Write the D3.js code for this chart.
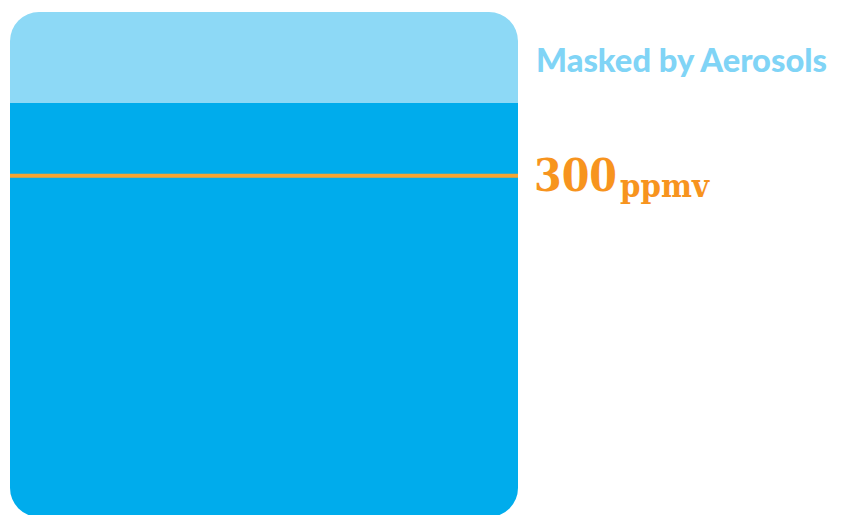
<!DOCTYPE html>
<html>
<head>
<meta charset="utf-8">
<script src="https://cdn.jsdelivr.net/npm/d3@7"></script>
<style>
  html, body { margin: 0; padding: 0; background: #ffffff; }
  svg { display: block; }
</style>
</head>
<body>
<script>
// Stacked column: warming-equivalent CO2 split into the visible part and the part masked by aerosols
const segmentNames = ["Unmasked", "Masked by Aerosols"];
const segmentValues = [364, 80];          // ppmv, stacked from the bottom
const segmentColors = ["#00ACEC", "#8DD9F6"];
const thresholdValue = 300;               // reference level marked across the column
const thresholdUnit = "ppmv";

const width = 845, height = 515;
const svg = d3.select("body").append("svg")
  .attr("width", width).attr("height", height);

const total = d3.sum(segmentValues);
const x = d3.scaleBand().domain(["CO2"]).range([10, 518]).padding(0);
const y = d3.scaleLinear().domain([0, total]).range([517, 12]);

// stack the segments
let acc = 0;
const stacked = segmentValues.map((v, i) => {
  const d = { name: segmentNames[i], y0: acc, y1: acc + v, color: segmentColors[i] };
  acc += v;
  return d;
});

// rounded outline of the whole column used as a clip
const clip = svg.append("defs").append("clipPath").attr("id", "col-clip");
clip.append("rect")
  .attr("x", x("CO2")).attr("width", x.bandwidth())
  .attr("y", y(total)).attr("height", y(0) - y(total))
  .attr("rx", 29).attr("ry", 29);

const col = svg.append("g").attr("clip-path", "url(#col-clip)");
col.selectAll("rect.seg").data(stacked).join("rect")
  .attr("class", "seg")
  .attr("x", x("CO2")).attr("width", x.bandwidth())
  .attr("y", d => y(d.y1)).attr("height", d => y(d.y0) - y(d.y1))
  .attr("fill", d => d.color);

// threshold line
svg.append("line")
  .attr("x1", x("CO2")).attr("x2", x("CO2") + x.bandwidth())
  .attr("y1", y(thresholdValue)).attr("y2", y(thresholdValue))
  .attr("stroke", "#F6A432").attr("stroke-width", 4);

// label for the masked segment
const masked = stacked[1];
svg.append("text")
  .attr("x", 536).attr("y", 72)
  .attr("font-family", "Lato, 'Open Sans', sans-serif")
  .attr("font-weight", 900)
  .attr("font-size", 32)
  .attr("fill", "#80D4F6")
  .attr("textLength", 291)
  .attr("lengthAdjust", "spacingAndGlyphs")
  .text(masked.name);

// threshold value label
const tl = svg.append("text")
  .attr("x", 534).attr("y", y(thresholdValue) + 15)
  .attr("font-family", "'DejaVu Serif', serif")
  .attr("font-weight", 700)
  .attr("fill", "#F7941E");
tl.append("tspan")
  .attr("font-size", 45)
  .attr("textLength", 83)
  .attr("lengthAdjust", "spacingAndGlyphs")
  .text(thresholdValue);
tl.append("tspan")
  .attr("font-size", 32)
  .attr("dx", 3)
  .attr("dy", 6)
  .attr("textLength", 89)
  .attr("lengthAdjust", "spacingAndGlyphs")
  .text(thresholdUnit);
</script>
</body>
</html>
